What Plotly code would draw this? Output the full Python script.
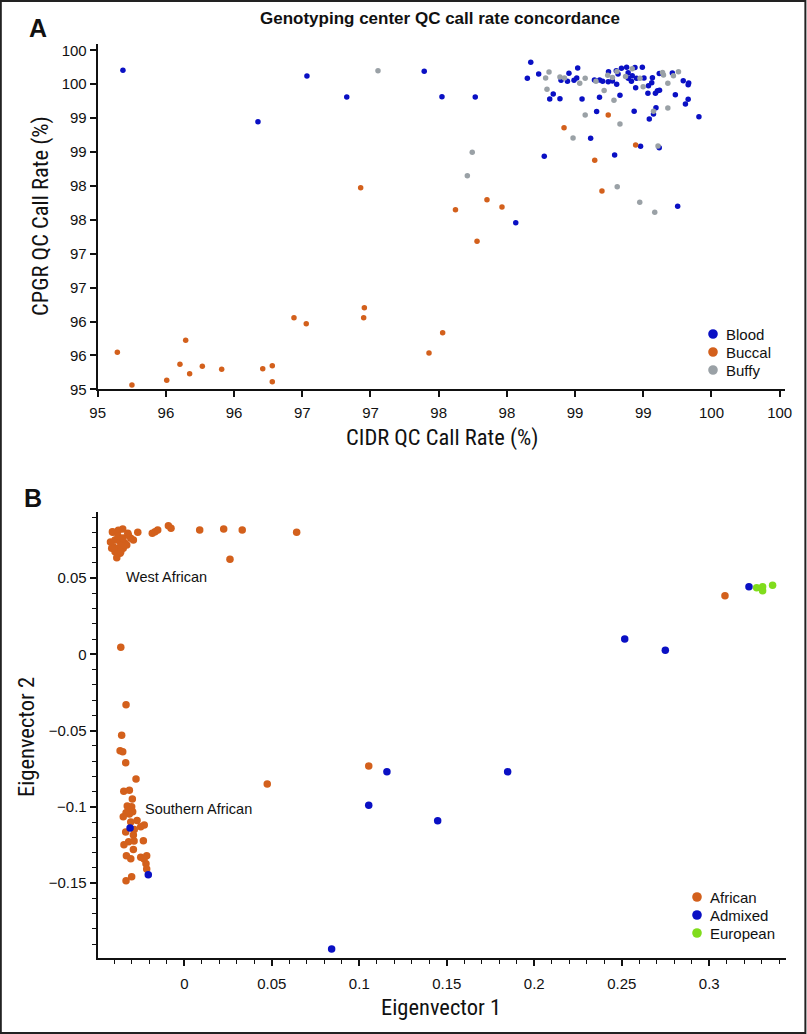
import plotly.graph_objects as go

# ---------------- Panel A data ----------------
blood_x = [95.185, 96.534, 96.175, 96.826, 97.394, 97.524, 97.768, 98.175, 98.150, 98.233,
           98.340, 98.314, 98.389, 98.397, 98.444, 98.455, 98.519, 98.492, 98.512, 98.551,
           98.642, 98.680, 98.702, 98.679, 98.658, 98.745, 98.743, 98.774, 98.805, 98.802,
           98.840, 98.815, 98.829, 98.878, 98.889, 98.919, 98.890, 98.913, 98.950, 98.939,
           98.993, 99.005, 98.944, 98.933, 99.067, 99.062, 99.038, 99.034, 99.089, 99.104,
           99.119, 99.117, 99.093, 99.075, 99.044, 99.213, 99.293, 99.333, 99.329, 99.235,
           99.329, 99.309, 99.408, 98.614, 98.980, 99.117, 98.274, 98.790, 99.252, 98.065]
blood_y = [99.705, 99.621, 98.947, 99.311, 99.690, 99.316, 99.311, 99.823, 99.587, 99.650,
           99.355, 99.282, 99.286, 99.558, 99.543, 99.661, 99.739, 99.558, 99.591, 99.282,
           99.562, 99.562, 99.543, 99.307, 99.097, 99.684, 99.537, 99.547, 99.499, 99.699,
           99.735, 99.650, 99.336, 99.749, 99.668, 99.625, 99.587, 99.543, 99.587, 99.746,
           99.751, 99.591, 99.448, 99.100, 99.594, 99.522, 99.478, 99.366, 99.366, 99.404,
           99.411, 99.658, 99.153, 99.060, 98.987, 99.665, 99.552, 99.518, 99.493, 99.344,
           99.277, 99.208, 99.021, 98.702, 98.584, 98.562, 98.437, 98.456, 97.699, 97.457]

buccal_x = [96.928, 98.743, 98.419, 98.944, 98.644, 98.697, 97.854, 97.623, 97.964, 97.781,
            96.955, 96.950, 96.529, 96.439, 97.529, 97.429, 95.144, 95.251, 95.506, 95.603,
            95.645, 95.674, 95.767, 95.909, 96.210, 96.280, 96.280]
buccal_y = [97.972, 99.046, 98.858, 98.603, 98.378, 97.925, 97.796, 97.649, 97.689, 97.183,
            96.204, 96.056, 95.968, 96.056, 95.835, 95.535, 95.546, 95.063, 95.133, 95.369,
            95.723, 95.230, 95.339, 95.295, 95.304, 95.348, 95.112]

buffy_x = [97.055, 98.309, 98.284, 98.294, 98.389, 98.422, 98.534, 98.574, 98.653, 98.713,
           98.574, 98.739, 98.774, 98.807, 98.785, 98.829, 98.870, 98.919, 98.976, 98.999,
           99.141, 99.148, 99.180, 99.180, 99.221, 99.258, 99.075, 98.485, 99.108, 97.746,
           97.710, 98.809, 98.974, 99.084]
buffy_y = [99.699, 99.680, 99.591, 99.425, 99.606, 99.591, 99.513, 99.587, 99.543, 99.407,
           99.046, 99.631, 99.599, 99.687, 99.264, 98.913, 99.614, 99.729, 99.588, 99.463,
           99.673, 99.636, 99.513, 99.149, 99.624, 99.684, 99.102, 98.706, 98.588, 98.496,
           98.150, 97.988, 97.758, 97.611]

a_tickvals = [95, 95.5, 96, 96.5, 97, 97.5, 98, 98.5, 99, 99.5, 100]
a_ticktext = ["95", "96", "96", "97", "97", "98", "98", "99", "99", "100", "100"]

# ---------------- Panel B data ----------------
african_x = [-0.0411, -0.0377, -0.0352, -0.0320, -0.0291, -0.0306, -0.0396, -0.0367, -0.0339, -0.0406,
             -0.0377, -0.0349, -0.0329, -0.0396, -0.0367, -0.0386, -0.0409, -0.0415, -0.0363, -0.0323,
             -0.0379, -0.0350, -0.0422, -0.0362,
             -0.0266, -0.0183, -0.0167, -0.0152, -0.0091, -0.0076, 0.0088, 0.0225, 0.0331, 0.0642, 0.0261,
             -0.0363, -0.0333, -0.0358, -0.0367, -0.0352, -0.0335, -0.0276, -0.0346, -0.0314, -0.0297,
             -0.0326, -0.0301, -0.0320, -0.0295, -0.0314, -0.0333, -0.0349, -0.0306, -0.0270, -0.0229,
             -0.0249, -0.0286, -0.0335, -0.0291, -0.0234, -0.0318, -0.0287, -0.0345, -0.0291, -0.0331,
             -0.0306, -0.0249, -0.0215, -0.0230, -0.0219, -0.0215, -0.0333, -0.0301,
             0.0474, 0.1054, 0.3090]
african_y = [0.0804, 0.0813, 0.0822, 0.0782, 0.0750, 0.0761, 0.0750, 0.0738, 0.0728, 0.0706,
             0.0695, 0.0695, 0.0717, 0.0673, 0.0662, 0.0633, 0.0800, 0.0695, 0.0673, 0.0793,
             0.0776, 0.0763, 0.0736, 0.0713,
             0.0800, 0.0793, 0.0804, 0.0815, 0.0843, 0.0826, 0.0815, 0.0822, 0.0815, 0.0800, 0.0623,
             0.0046, -0.0330, -0.0531, -0.0632, -0.0639, -0.0711, -0.0818, -0.0898, -0.0892, -0.0949,
             -0.0995, -0.0999, -0.1021, -0.1032, -0.1047, -0.1039, -0.1065, -0.1100, -0.1089, -0.1119,
             -0.1130, -0.1148, -0.1165, -0.1185, -0.1222, -0.1229, -0.1224, -0.1249, -0.1279, -0.1321,
             -0.1340, -0.1331, -0.1321, -0.1342, -0.1373, -0.1408, -0.1485, -0.1458,
             -0.0850, -0.0732, 0.0384]

admixed_x = [-0.0310, -0.0206, 0.0842, 0.1054, 0.1158, 0.1448, 0.1848, 0.2517, 0.2749, 0.3227]
admixed_y = [-0.1139, -0.1445, -0.1932, -0.0990, -0.0770, -0.1091, -0.0770, 0.0100, 0.0026, 0.0443]

european_x = [0.3271, 0.3305, 0.3305, 0.3362]
european_y = [0.0437, 0.0443, 0.0417, 0.0452]

legend_a = ["Blood", "Buccal", "Buffy"]
legend_b = ["African", "Admixed", "European"]

BLUE = "#0a10c4"
ORANGE = "#d3601c"
GRAY = "#9aa1a6"
GREEN = "#80dc1c"

W, H = 807, 1034


def px_x(p):
    return p / W


def px_y(p):
    return 1 - p / H


fig = go.Figure()

for xs, ys, col in [(blood_x, blood_y, BLUE), (buccal_x, buccal_y, ORANGE), (buffy_x, buffy_y, GRAY)]:
    fig.add_trace(go.Scatter(x=xs, y=ys, mode="markers", xaxis="x", yaxis="y",
                             marker=dict(color=col, size=5.5, line=dict(width=0)),
                             showlegend=False, hoverinfo="x+y"))

for xs, ys, col in [(african_x, african_y, ORANGE), (admixed_x, admixed_y, BLUE),
                    (european_x, european_y, GREEN)]:
    fig.add_trace(go.Scatter(x=xs, y=ys, mode="markers", xaxis="x2", yaxis="y2",
                             marker=dict(color=col, size=7.5, line=dict(width=0)),
                             showlegend=False, hoverinfo="x+y"))

FONT = "Liberation Sans, Arial, sans-serif"
COND = "Liberation Sans Narrow, Roboto Condensed, Roboto, Liberation Sans, Arial"
tickfont = dict(family=FONT, size=15, color="#111")

axis_common = dict(showgrid=False, zeroline=False, showline=True, linecolor="#111", linewidth=2,
                   ticks="outside", tickcolor="#111", tickwidth=1.5, ticklen=6,
                   tickfont=tickfont, mirror=False, automargin=False)

annotations = [
    dict(text="<b>Genotyping center QC call rate concordance</b>", x=px_x(440), y=px_y(18),
         font=dict(family=FONT, size=17, color="#111")),
    dict(text="<b>A</b>", x=px_x(38), y=px_y(28), font=dict(family=FONT, size=25, color="#111")),
    dict(text="<b>B</b>", x=px_x(33), y=px_y(498), font=dict(family=FONT, size=25, color="#111")),
    dict(text="CIDR QC Call Rate (%)", x=px_x(442), y=px_y(437), font=dict(family=COND, size=22.5, color="#111")),
    dict(text="CPGR QC Call Rate (%)", x=px_x(40), y=px_y(216), textangle=-90,
         font=dict(family=COND, size=22.5, color="#111")),
    dict(text="Eigenvector 1", x=px_x(441), y=px_y(1007), font=dict(family=COND, size=22.5, color="#111")),
    dict(text="Eigenvector 2", x=px_x(26), y=px_y(737), textangle=-90,
         font=dict(family=COND, size=22.5, color="#111")),
    dict(text="West African", x=-0.0345, y=0.0505, xref="x2", yref="y2", xanchor="left",
         font=dict(family=FONT, size=14.5, color="#111")),
    dict(text="Southern African", x=-0.0235, y=-0.1015, xref="x2", yref="y2", xanchor="left",
         font=dict(family=FONT, size=14.5, color="#111")),
]
for a in annotations:
    a.setdefault("xref", "paper")
    a.setdefault("yref", "paper")
    a.setdefault("xanchor", "center")
    a.setdefault("yanchor", "middle")
    a["showarrow"] = False

shapes = [dict(type="rect", xref="paper", yref="paper", x0=0.001, x1=0.998, y0=0.001, y1=0.999,
               line=dict(color="#222", width=2))]

# manual legends
for labels, cols, dotx, y0 in [(legend_a, [BLUE, ORANGE, GRAY], 713, 334),
                               (legend_b, [ORANGE, BLUE, GREEN], 697, 897)]:
    for i, (lab, col) in enumerate(zip(labels, cols)):
        cy = y0 + i * 18
        r = 4.8
        shapes.append(dict(type="circle", xref="paper", yref="paper",
                           x0=px_x(dotx - r), x1=px_x(dotx + r), y0=px_y(cy + r), y1=px_y(cy - r),
                           fillcolor=col, line=dict(width=0)))
        annotations.append(dict(text=lab, x=px_x(dotx + 11), y=px_y(cy), xref="paper", yref="paper",
                                xanchor="left", yanchor="middle", showarrow=False,
                                font=dict(family=FONT, size=15, color="#111")))

fig.update_layout(
    width=W, height=H,
    margin=dict(l=0, r=0, t=0, b=0),
    paper_bgcolor="white", plot_bgcolor="white",
    showlegend=False,
    xaxis=dict(domain=[px_x(97.7), px_x(785)], range=[95, 100.039], anchor="y",
               tickvals=a_tickvals, ticktext=a_ticktext, ticklabelstandoff=3, **axis_common),
    yaxis=dict(domain=[px_y(389.3), px_y(43.7)], range=[95, 100.097], anchor="x",
               tickvals=a_tickvals, ticktext=a_ticktext, **axis_common),
    xaxis2=dict(domain=[px_x(97.7), px_x(785.7)], range=[-0.0495, 0.3437], anchor="y2",
                tickvals=[0, 0.05, 0.1, 0.15, 0.2, 0.25, 0.3], ticklabelstandoff=5,
                minor=dict(dtick=0.01, tick0=0, ticks="outside", ticklen=4, tickcolor="#111", tickwidth=1),
                **axis_common),
    yaxis2=dict(domain=[px_y(958.3), px_y(511.7)], range=[-0.1993, 0.0935], anchor="x2",
                tickvals=[-0.15, -0.1, -0.05, 0, 0.05],
                minor=dict(dtick=0.01, tick0=0, ticks="outside", ticklen=4, tickcolor="#111", tickwidth=1),
                **axis_common),
    annotations=annotations,
    shapes=shapes,
)

fig.write_html("out.html", config={"displayModeBar": False},
               post_script="document.body.style.margin='0';document.body.style.padding='0';")
